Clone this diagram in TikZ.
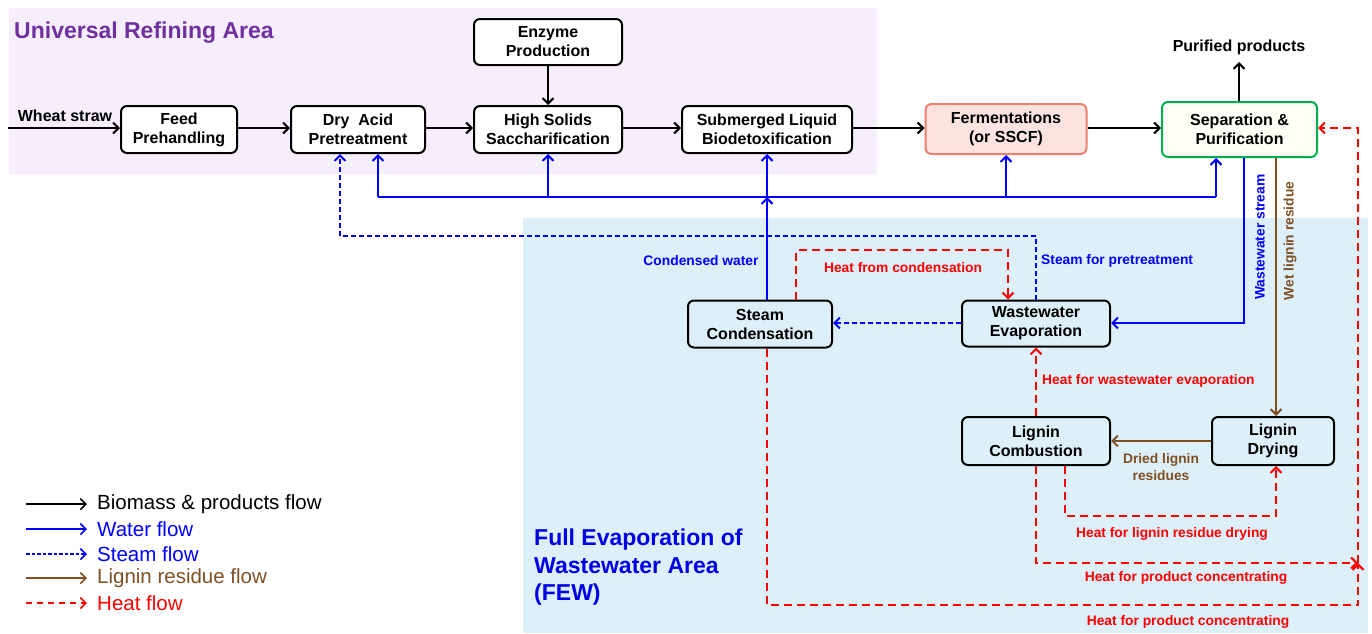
\documentclass[tikz,border=0pt]{standalone}
\usepackage{fontspec}
\setmainfont{Liberation Sans}
\usetikzlibrary{arrows.meta}
\definecolor{purpbg}{RGB}{245,238,252}
\definecolor{fewbg}{RGB}{221,239,249}
\definecolor{titlepurple}{RGB}{112,48,160}
\definecolor{wblue}{RGB}{0,0,255}
\definecolor{lbrown}{RGB}{127,80,36}
\definecolor{hred}{RGB}{255,0,0}
\definecolor{fermfill}{RGB}{252,228,222}
\definecolor{fermdraw}{RGB}{240,128,110}
\definecolor{sepdraw}{RGB}{0,176,80}
\definecolor{sepfill}{RGB}{254,254,246}
\definecolor{fewblue}{RGB}{0,0,230}
\begin{document}
\begin{tikzpicture}[x=1pt,y=-1pt,
  proc/.style={draw=black, line width=2pt, rounded corners=6pt, fill=white, align=center, inner sep=0pt, font=\fontsize{16}{19}\selectfont\bfseries},
  fewproc/.style={proc, fill=none},
  tipb/.style={-{Straight Barb[length=5.5pt,width=11pt]}},
  flow/.style={draw=black, line width=2pt, tipb},
  water/.style={draw=wblue, line width=2pt, tipb},
  waterline/.style={draw=wblue, line width=2pt},
  steam/.style={draw=wblue, line width=2pt, dash pattern=on 5pt off 3pt, tipb},
  lig/.style={draw=lbrown, line width=2pt, tipb},
  heat/.style={draw=hred, line width=2pt, dash pattern=on 8pt off 5pt, tipb},
  lbl/.style={font=\fontsize{13.8}{16}\selectfont\bfseries, inner sep=0pt},
  legtxt/.style={font=\fontsize{20.5}{23}\selectfont, anchor=west, inner sep=0pt}
]
\useasboundingbox (0,0) rectangle (1372,633);
% backgrounds
\fill[purpbg] (9,8) rectangle (877,174);
\fill[fewbg] (523,218) rectangle (1368,633);

% titles
\node[anchor=west, inner sep=0pt, text=titlepurple, font=\fontsize{23}{26}\selectfont\bfseries] (t1) at (14,33) {Universal Refining Area};
\node[anchor=west, inner sep=0pt, align=left, text=fewblue, font=\fontsize{23}{27.5}\selectfont\bfseries] (t2) at (534,567.5) {Full Evaporation of\\Wastewater Area\\(FEW)};

% process nodes
\node[proc, minimum width=116pt, minimum height=47pt] (feed) at (179,129.5) {Feed\\Prehandling};
\node[proc, minimum width=134pt, minimum height=47pt] (dry) at (358,129.5) {Dry\ \ Acid\\Pretreatment};
\node[proc, minimum width=148pt, minimum height=46pt] (enz) at (548,42) {Enzyme\\Production};
\node[proc, minimum width=148pt, minimum height=47pt] (high) at (548,129.5) {High Solids\\Saccharification};
\node[proc, minimum width=170pt, minimum height=47pt] (sub) at (767,129.5) {Submerged Liquid\\Biodetoxification};
\node[proc, draw=fermdraw, fill=fermfill, minimum width=161pt, minimum height=50pt] (ferm) at (1006,129) {Fermentations\\(or SSCF)};
\node[proc, draw=sepdraw, fill=sepfill, minimum width=155pt, minimum height=55pt] (sep) at (1239.5,129.5) {Separation \&\\Purification};
\node[fewproc, minimum width=144pt, minimum height=47pt] (sc) at (760,324) {Steam\\Condensation};
\node[fewproc, minimum width=148pt, minimum height=46pt] (ww) at (1036,323.5) {Wastewater\\Evaporation};
\node[fewproc, minimum width=148pt, minimum height=48pt] (lc) at (1036,441) {Lignin\\Combustion};
\node[fewproc, minimum width=122pt, minimum height=48pt] (ld) at (1273,441) {Lignin\\Drying};

% plain text nodes
\node[inner sep=0pt, font=\fontsize{16}{19}\selectfont\bfseries] (wheat) at (65,116) {Wheat straw};
\node[inner sep=0pt, font=\fontsize{16}{19}\selectfont\bfseries] (pp) at (1239,47) {Purified products};
\coordinate (ppin) at (1239,62);
\coordinate (wsin) at (8,128);
\coordinate (xpp) at (1239,0);

% black flows
\draw[flow] (wsin) -- (feed.west |- wsin);
\draw[flow] (feed.east |- wsin) -- (dry.west |- wsin);
\draw[flow] (dry.east |- wsin) -- (high.west |- wsin);
\draw[flow] (enz) -- (high);
\draw[flow] (high.east |- wsin) -- (sub.west |- wsin);
\draw[flow] (sub.east |- wsin) -- (ferm.west |- wsin);
\draw[flow] (ferm.east |- wsin) -- (sep.west |- wsin);
\draw[flow] (xpp |- sep.north) -- (ppin);

% water flows
\coordinate (wL) at (378,197);
\coordinate (wR) at (1216,197);
\coordinate (xss) at (1244,0);
\coordinate (xwl) at (1276,0);
\coordinate (ywe) at (0,323);
\draw[waterline] (wL) -- (wR);
\draw[water] (wL) -- (wL |- dry.south);
\draw[water] (high.south |- wL) -- (high.south);
\draw[water] (sub.south |- sc.north) -- (sub.south |- wL);
\draw[water] (sub.south |- wL) -- (sub.south);
\draw[water] (ferm.south |- wL) -- (ferm.south);
\draw[water] (wR) -- (wR |- sep.south);
\draw[water] (xss |- sep.south) -- (xss |- ywe) -- (ww.east |- ywe);
\node[lbl, text=wblue, rotate=90] (lws) at (1260,237) {Wastewater stream};
\node[lbl, text=wblue] (lcw) at (701,261) {Condensed water};

% lignin flows
\draw[lig] (xwl |- sep.south) -- (xwl |- ld.north);
\node[lbl, text=lbrown, rotate=90] (lwl) at (1290,241) {Wet lignin residue};
\draw[lig] (ld.west) -- (lc.east);
\node[lbl, text=lbrown, align=center, font=\fontsize{13.8}{17}\selectfont\bfseries] (ldl) at (1161,467.5) {Dried lignin\\residues};

% steam flows
\coordinate (st) at (340,236);
\draw[steam] (ww.north) |- (st) -- (st |- dry.south);
\draw[steam] (ww.west |- ywe) -- (sc.east |- ywe);
\node[lbl, text=wblue, anchor=west] (lsp) at (1041,261) {Steam for pretreatment};

% heat flows
\coordinate (hA) at (796,250);
\coordinate (hB) at (1008,250);
\draw[heat] (hA |- sc.north) -- (hA) -- (hB) -- (hB |- ww.north);
\node[lbl, text=hred] (lhc) at (903,268) {Heat from condensation};

\draw[heat] (lc.north) -- (ww.south);
\node[lbl, text=hred, anchor=west] (lhw) at (1042,381) {Heat for wastewater evaporation};

\coordinate (hC) at (1065,516);
\coordinate (hD) at (1276,516);
\draw[heat] (hC |- lc.south) -- (hC) -- (hD) -- (hD |- ld.south);
\node[lbl, text=hred] (lhd) at (1172,534) {Heat for lignin residue drying};

\coordinate (hJ) at (1358,563);
\draw[heat] (lc.south) -- (lc.south |- hJ) -- (hJ);
\node[lbl, text=hred] (lhp1) at (1186,578) {Heat for product concentrating};

\coordinate (hF) at (767,605);
\coordinate (hG) at (1358,605);
\draw[heat] (hF |- sc.south) -- (hF) -- (hG) -- (hJ);
\draw[heat] (hJ) |- (sep.east |- wsin);
\node[lbl, text=hred] (lhp2) at (1188,622) {Heat for product concentrating};

% legend
\foreach \i/\yy in {1/504, 2/529, 3/554, 4/578, 5/603} {
  \coordinate (lgs\i) at (26,\yy);
  \coordinate (lge\i) at (87,\yy);
}
\draw[flow, line width=1.6pt] (lgs1) -- (lge1);
\draw[water, line width=1.6pt] (lgs2) -- (lge2);
\draw[steam, line width=1.6pt, dash pattern=on 3.5pt off 2pt] (lgs3) -- (lge3);
\draw[lig, line width=1.6pt] (lgs4) -- (lge4);
\draw[heat, line width=1.6pt, dash pattern=on 6pt off 5pt] (lgs5) -- (lge5);
\node[legtxt] (lt1) at (97,504) {Biomass \& products flow};
\node[legtxt, text=wblue] (lt2) at (97,529) {Water flow};
\node[legtxt, text=wblue] (lt3) at (97,554) {Steam flow};
\node[legtxt, text=lbrown] (lt4) at (97,578) {Lignin residue flow};
\node[legtxt, text=hred] (lt5) at (97,603) {Heat flow};
\end{tikzpicture}
\end{document}
